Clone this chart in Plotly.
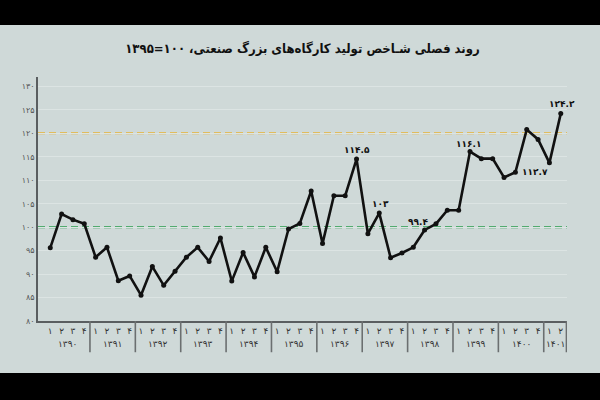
import plotly.graph_objects as go

# ---------------- data ----------------
years = ["۱۳۹۰", "۱۳۹۱", "۱۳۹۲", "۱۳۹۳", "۱۳۹۴", "۱۳۹۵",
         "۱۳۹۶", "۱۳۹۷", "۱۳۹۸", "۱۳۹۹", "۱۴۰۰", "۱۴۰۱"]
quarters_per_year = [4, 4, 4, 4, 4, 4, 4, 4, 4, 4, 4, 2]
quarter_names = ["۱", "۲", "۳", "۴"]

index_values = [
    95.6, 102.8, 101.6, 100.7,      # 1390
    93.6, 95.7, 88.6, 89.6,         # 1391
    85.5, 91.6, 87.6, 90.6,         # 1392
    93.6, 95.7, 92.7, 97.7,         # 1393
    88.5, 94.6, 89.4, 95.7,         # 1394
    90.5, 99.6, 100.8, 107.7,       # 1395
    96.5, 106.7, 106.7, 114.5,      # 1396
    98.6, 103.0, 93.5, 94.5,        # 1397
    95.7, 99.4, 100.7, 103.6,       # 1398
    103.6, 116.1, 114.6, 114.6,     # 1399
    110.6, 111.7, 120.8, 118.7,     # 1400
    113.7, 124.2,                   # 1401
]

# labelled points: index in series, label text
label_points = [27, 29, 33, 37, 41, 45]
label_texts = ["۱۱۴.۵", "۱۰۳", "۹۹.۴", "۱۱۶.۱", "۱۱۲.۷", "۱۲۴.۲"]

y_tick_vals = [80, 85, 90, 95, 100, 105, 110, 115, 120, 125, 130]
y_tick_text = ["۸۰", "۸۵", "۹۰", "۹۵", "۱۰۰", "۱۰۵", "۱۱۰", "۱۱۵", "۱۲۰", "۱۲۵", "۱۳۰"]

ref_lines = [100, 120]
ref_colors = ["#2a9c4c", "#e8b234"]

title_text = "روند فصلی شـاخص تولید کارگاه‌های بزرگ صنعتی، ۱۰۰=۱۳۹۵"

# ---------------- build ----------------
FONT = "DejaVu Sans"
TITLE_FONT = "DejaVu Sans Condensed, DejaVu Sans"
BG = "#cfd9d8"

x_idx = list(range(len(index_values)))
quarter_text = []
for n in quarters_per_year:
    quarter_text += quarter_names[:n]

fig = go.Figure()
fig.add_trace(go.Scatter(
    x=x_idx, y=index_values, mode="lines+markers",
    line=dict(color="#111111", width=2.6),
    marker=dict(color="#111111", size=5),
    hoverinfo="skip", cliponaxis=False,
))

shapes = []
annotations = []

# black bands top & bottom
shapes.append(dict(type="rect", xref="paper", yref="paper", x0=-0.2, x1=1.2,
                   y0=1.213, y1=1.40, fillcolor="black", line_width=0, layer="below"))
shapes.append(dict(type="rect", xref="paper", yref="paper", x0=-0.2, x1=1.2,
                   y0=-0.213, y1=-0.40, fillcolor="black", line_width=0, layer="below"))

# reference dashed lines
for v, c in zip(ref_lines, ref_colors):
    shapes.append(dict(type="line", xref="paper", yref="y", x0=0, x1=1, y0=v, y1=v,
                       line=dict(color=c, width=2, dash="7px,4px"), layer="below"))

# year dividers & labels
start = 0
for yr, n in zip(years, quarters_per_year):
    end = start + n - 1
    shapes.append(dict(type="line", xref="x", yref="paper",
                       x0=end + 0.5, x1=end + 0.5, y0=0, y1=-0.128,
                       line=dict(color="#6b6f70", width=1.6)))
    annotations.append(dict(x=(start + end) / 2, y=-0.094, xref="x", yref="paper",
                            text=yr, showarrow=False,
                            font=dict(family=FONT, size=9, color="#333333"),
                            yanchor="middle", xanchor="center"))
    start = end + 1

# data labels
label_offsets = {27: (0, 2, "center", "bottom"),
                 29: (1, 2, "center", "bottom"),
                 33: (-7, 1, "center", "bottom"),
                 37: (-2, 1, "center", "bottom"),
                 41: (5, 0, "left", "middle"),
                 45: (1, 3, "center", "bottom")}
for i, t in zip(label_points, label_texts):
    dx, dy, xa, ya = label_offsets[i]
    annotations.append(dict(x=i, y=index_values[i], xref="x", yref="y", text="<b>" + t + "</b>",
                            showarrow=False, xshift=dx, yshift=dy,
                            xanchor=xa, yanchor=ya,
                            font=dict(family=FONT, size=9, color="#111111")))

fig.update_layout(
    width=600, height=400,
    margin=dict(l=38, r=33, t=77, b=79),
    paper_bgcolor=BG, plot_bgcolor=BG,
    showlegend=False,
    font=dict(family=FONT, color="#444444"),
    title=dict(text="<b>" + title_text + "</b>", x=0.5, xref="paper", xanchor="center",
               y=0.88, yanchor="middle",
               font=dict(family=TITLE_FONT, size=13, color="#111111")),
    shapes=shapes, annotations=annotations,
    xaxis=dict(range=[-1.08, 45.55], tickmode="array", tickvals=x_idx, ticktext=quarter_text,
               tickfont=dict(family=FONT, size=9, color="#333333"),
               showgrid=False, zeroline=False, showline=True, linecolor="#5a5e60",
               linewidth=1.5, ticks="", fixedrange=True),
    yaxis=dict(range=[80, 132], tickmode="array", tickvals=y_tick_vals, ticktext=y_tick_text,
               tickfont=dict(family=FONT, size=8, color="#555555"),
               showgrid=True, gridcolor="#dce4e3", gridwidth=1,
               zeroline=False, showline=True, linecolor="#5a5e60", linewidth=1.5,
               ticks="", fixedrange=True),
)

fig.write_html("out.html")
